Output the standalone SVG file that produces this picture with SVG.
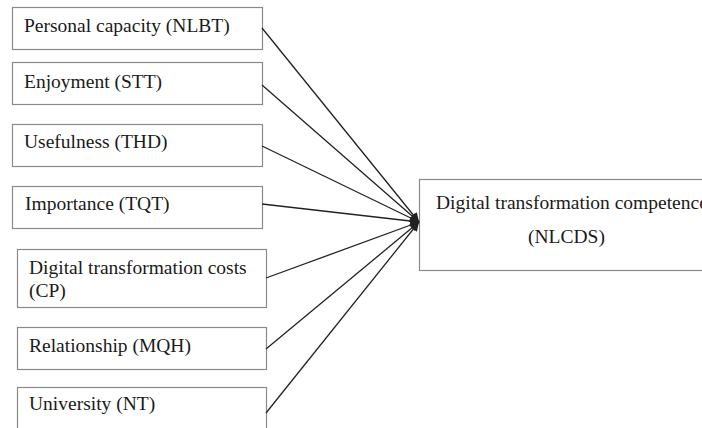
<svg xmlns="http://www.w3.org/2000/svg" width="702" height="428" viewBox="0 0 702 428">
  <style>
    .box { fill: #ffffff; stroke: #8a8a8a; stroke-width: 1.2; }
    .lbl { font-family: "Liberation Serif", "Times New Roman", serif; font-size: 19.5px; fill: #1a1a1a; }
    .edge { stroke: #222222; stroke-width: 1.3; fill: none; marker-end: url(#arrow); }
  </style>
  <defs>
    <marker id="arrow" viewBox="0 0 10 10" refX="10" refY="5" markerWidth="9" markerHeight="9" markerUnits="userSpaceOnUse" orient="auto">
      <path d="M0,0 L10,5 L0,10 z" fill="#222222"/>
    </marker>
  </defs>
  <rect width="702" height="428" fill="#ffffff"/>

  <g id="nlbt">
    <rect class="box" x="12.5" y="7.5" width="250" height="42"/>
    <text class="lbl" x="24" y="32">Personal capacity (NLBT)</text>
  </g>
  <g id="stt">
    <rect class="box" x="12.5" y="62.5" width="250" height="42"/>
    <text class="lbl" x="24" y="88">Enjoyment (STT)</text>
  </g>
  <g id="thd">
    <rect class="box" x="12.5" y="124.5" width="250" height="42"/>
    <text class="lbl" x="24" y="148">Usefulness (THD)</text>
  </g>
  <g id="tqt">
    <rect class="box" x="12.5" y="186.5" width="250" height="42"/>
    <text class="lbl" x="25" y="210">Importance (TQT)</text>
  </g>
  <g id="cp">
    <rect class="box" x="17.5" y="249.5" width="249" height="58"/>
    <text class="lbl" x="29" y="274">Digital transformation costs</text>
    <text class="lbl" x="29" y="297">(CP)</text>
  </g>
  <g id="mqh">
    <rect class="box" x="17.5" y="327.5" width="249" height="42"/>
    <text class="lbl" x="29" y="352">Relationship (MQH)</text>
  </g>
  <g id="nt">
    <rect class="box" x="17.5" y="387.5" width="249" height="60"/>
    <text class="lbl" x="29" y="410">University (NT)</text>
  </g>
  <g id="nlcds">
    <rect class="box" x="419.5" y="179.5" width="300" height="91"/>
    <text class="lbl" x="436" y="209">Digital transformation competence</text>
    <text class="lbl" x="528" y="243">(NLCDS)</text>
  </g>

  <g id="connectors">
    <line class="edge" x1="262" y1="28" x2="419" y2="222"/>
    <line class="edge" x1="262" y1="85" x2="419" y2="222"/>
    <line class="edge" x1="262" y1="146" x2="419" y2="222"/>
    <line class="edge" x1="262" y1="204" x2="419" y2="222"/>
    <line class="edge" x1="266" y1="278" x2="419" y2="222"/>
    <line class="edge" x1="266" y1="349" x2="419" y2="222"/>
    <line class="edge" x1="266" y1="413" x2="419" y2="222"/>
  </g>
</svg>
